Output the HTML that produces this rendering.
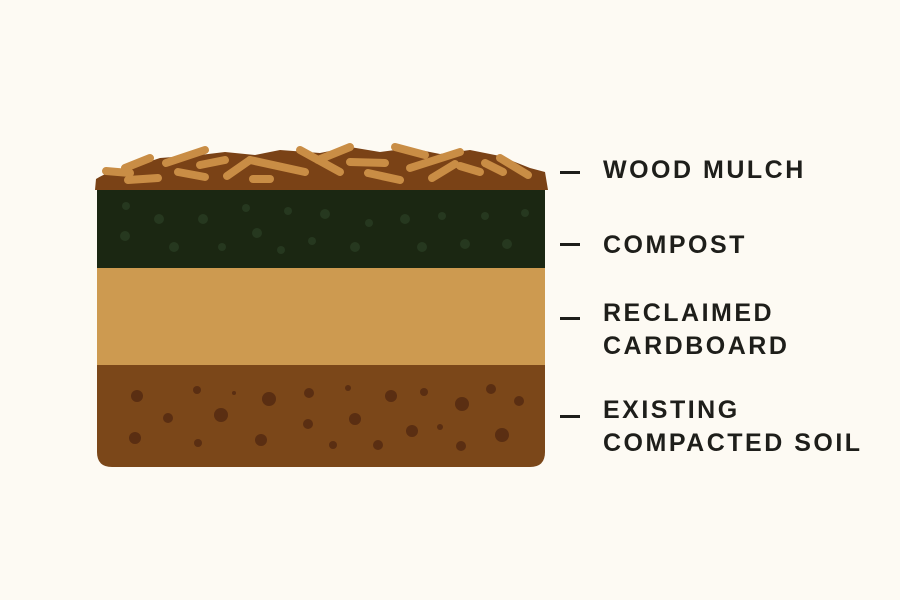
<!DOCTYPE html>
<html><head><meta charset="utf-8"><style>
html,body{margin:0;padding:0;background:#fdfaf3;}
.l{position:absolute;left:603px;font-family:"Liberation Sans",sans-serif;font-weight:bold;font-size:25px;letter-spacing:2.5px;color:#1e1e1a;line-height:33px;}
.d{position:absolute;left:560px;width:20px;height:3px;background:#1e1e1a;}
</style></head><body>
<div style="position:relative;width:900px;height:600px;overflow:hidden">
<svg width="900" height="600" style="position:absolute;left:0;top:0">
<path d="M97,268 H545 V452 Q545,467 530,467 H112 Q97,467 97,452 Z" fill="#7b4719"/>
<rect x="97" y="268" width="448" height="97" fill="#cd9a50"/>
<rect x="97" y="188" width="448" height="80" fill="#1b2712"/>
<path d="M95,190 L96,179 Q110,170 130,168 L160,158 L200,155 L225,152 L255,155 L280,150 L320,153 L350,147 L380,152 L410,148 L440,154 L470,150 L500,156 L530,168 L545,172 L548,190 Z" fill="#7a4216"/>
<g stroke="#c98d45" stroke-width="8" stroke-linecap="round" fill="none">
<line x1="106" y1="171" x2="130" y2="173"/>
<line x1="125" y1="168" x2="150" y2="158"/>
<line x1="128" y1="180" x2="158" y2="178"/>
<line x1="166" y1="163" x2="205" y2="150"/>
<line x1="178" y1="172" x2="205" y2="177"/>
<line x1="200" y1="165" x2="225" y2="160"/>
<line x1="227" y1="176" x2="250" y2="160"/>
<line x1="250" y1="160" x2="305" y2="172"/>
<line x1="253" y1="179" x2="270" y2="179"/>
<line x1="300" y1="150" x2="340" y2="172"/>
<line x1="318" y1="160" x2="350" y2="147"/>
<line x1="350" y1="162" x2="385" y2="163"/>
<line x1="368" y1="173" x2="400" y2="180"/>
<line x1="395" y1="147" x2="425" y2="155"/>
<line x1="410" y1="168" x2="460" y2="152"/>
<line x1="432" y1="178" x2="455" y2="164"/>
<line x1="460" y1="166" x2="480" y2="172"/>
<line x1="500" y1="158" x2="528" y2="175"/>
<line x1="485" y1="163" x2="503" y2="172"/>
</g>
<g fill="#26381f">
<circle cx="126" cy="206" r="4"/><circle cx="159" cy="219" r="5"/><circle cx="203" cy="219" r="5"/><circle cx="125" cy="236" r="5"/><circle cx="174" cy="247" r="5"/><circle cx="222" cy="247" r="4"/><circle cx="246" cy="208" r="4"/><circle cx="257" cy="233" r="5"/><circle cx="281" cy="250" r="4"/><circle cx="288" cy="211" r="4"/><circle cx="312" cy="241" r="4"/><circle cx="325" cy="214" r="5"/><circle cx="355" cy="247" r="5"/><circle cx="369" cy="223" r="4"/><circle cx="405" cy="219" r="5"/><circle cx="422" cy="247" r="5"/><circle cx="442" cy="216" r="4"/><circle cx="465" cy="244" r="5"/><circle cx="485" cy="216" r="4"/><circle cx="507" cy="244" r="5"/><circle cx="525" cy="213" r="4"/>
</g>
<g fill="#5a2e12">
<circle cx="137" cy="396" r="6"/><circle cx="197" cy="390" r="4"/><circle cx="168" cy="418" r="5"/><circle cx="221" cy="415" r="7"/><circle cx="135" cy="438" r="6"/><circle cx="198" cy="443" r="4"/><circle cx="269" cy="399" r="7"/><circle cx="261" cy="440" r="6"/><circle cx="309" cy="393" r="5"/><circle cx="308" cy="424" r="5"/><circle cx="348" cy="388" r="3"/><circle cx="355" cy="419" r="6"/><circle cx="333" cy="445" r="4"/><circle cx="378" cy="445" r="5"/><circle cx="391" cy="396" r="6"/><circle cx="424" cy="392" r="4"/><circle cx="412" cy="431" r="6"/><circle cx="440" cy="427" r="3"/><circle cx="462" cy="404" r="7"/><circle cx="491" cy="389" r="5"/><circle cx="461" cy="446" r="5"/><circle cx="502" cy="435" r="7"/><circle cx="519" cy="401" r="5"/><circle cx="234" cy="393" r="2"/>
</g>
</svg>
<div class="d" style="top:171px"></div><div class="l" style="top:154px">WOOD MULCH</div>
<div class="d" style="top:243px"></div><div class="l" style="top:229px">COMPOST</div>
<div class="d" style="top:317px"></div><div class="l" style="top:297px">RECLAIMED<br>CARDBOARD</div>
<div class="d" style="top:415px"></div><div class="l" style="top:394px">EXISTING<br>COMPACTED SOIL</div>
</div>
</body></html>
